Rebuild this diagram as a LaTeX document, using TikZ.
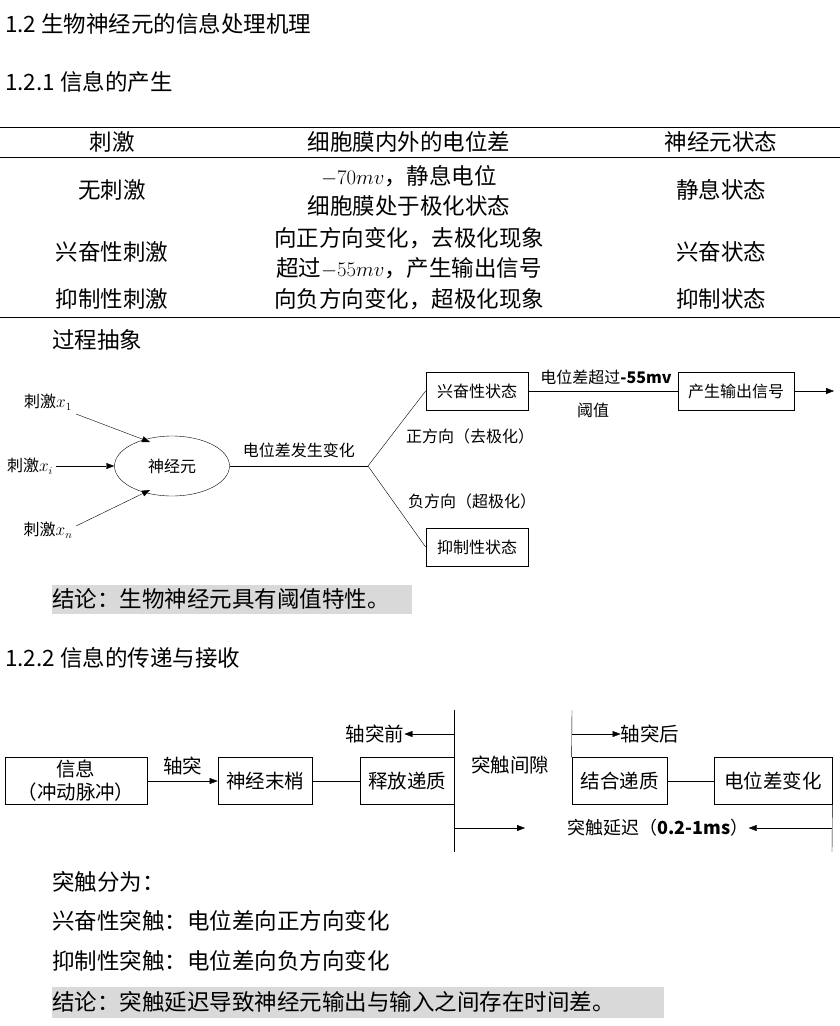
\documentclass[tikz,border=0pt]{standalone}
\usepackage{fontspec}
\setmainfont{Liberation Serif}
\newfontfamily\cjk{Noto Sans CJK SC}
\usetikzlibrary{shapes.geometric,arrows.meta}
\begin{document}
\begin{tikzpicture}[x=1pt,y=-1pt,
    every node/.style={inner sep=0pt,font=\cjk\fontsize{16}{19}\selectfont},
    body/.style={anchor=west,font=\cjk\fontsize{22.5}{26}\selectfont},
    cell/.style={font=\cjk\fontsize{22.5}{26}\selectfont,align=center},
    box/.style={draw,minimum height=38pt,thick},
    lab/.style={font=\cjk\fontsize{19.5}{23}\selectfont},
    arr/.style={-{Triangle[length=8pt,width=6pt]}},
    concl/.style={fill=black!15}
  ]
  \useasboundingbox (0,0) rectangle (840,1026);

  % headings
  \node[body] (h12) at (5,24) {1.2 生物神经元的信息处理机理};
  \node[body] (h121) at (5,82) {1.2.1 信息的产生};

  % table
  \draw (0,127) -- (840,127);
  \draw (0,157) -- (840,157);
  \draw (0,317) -- (840,317);
  \node[cell] (t11) at (112,142) {刺激};
  \node[cell] (t12) at (409,142) {细胞膜内外的电位差};
  \node[cell] (t13) at (721,142) {神经元状态};
  \node[cell] (t21) at (112,190) {无刺激};
  \node[cell] (t22a) at (409,176) {$-70mv$，静息电位};
  \node[cell] (t22b) at (409,206) {细胞膜处于极化状态};
  \node[cell] (t23) at (721,190) {静息状态};
  \node[cell] (t31) at (112,252) {兴奋性刺激};
  \node[cell] (t32a) at (409,238) {向正方向变化，去极化现象};
  \node[cell] (t32b) at (409,268) {超过$-55mv$，产生输出信号};
  \node[cell] (t33) at (721,252) {兴奋状态};
  \node[cell] (t41) at (112,299) {抑制性刺激};
  \node[cell] (t42) at (409,299) {向负方向变化，超极化现象};
  \node[cell] (t43) at (721,299) {抑制状态};

  \node[body] (proc) at (52,340) {过程抽象};

  % process diagram
  \node (x1) at (48,402) {刺激$x_1$};
  \node (xi) at (30,466) {刺激$x_i$};
  \node (xn) at (48,530) {刺激$x_n$};
  \node[ellipse,draw,minimum width=115pt,minimum height=60pt] (neu) at (172,466) {神经元};
  \coordinate (fork) at (368,466);
  \node[box,minimum width=102pt] (exc) at (477,391) {兴奋性状态};
  \node[box,minimum width=102pt] (inh) at (477,547) {抑制性状态};
  \node[box,minimum width=116pt] (out) at (736,391) {产生输出信号};
  \coordinate (end) at (834,391);
  \draw[arr] (76,414) -- (150,442);
  \draw[arr] (56,466) -- (neu.west);
  \draw[arr] (76,526) -- (150,490);
  \draw (neu.east) -- node[above=8pt] {电位差发生变化} (fork);
  \draw (fork) -- (exc.west);
  \draw (fork) -- (inh.west);
  \node (pos) at (470,436) {正方向（去极化）};
  \node (neg) at (472,501) {负方向（超极化）};
  \draw (exc.east) -- (out.west);
  \node (thr) at (606,377) {电位差超过\textbf{-55mv}};
  \node (yz) at (593,410) {阈值};
  \draw[arr] (out.east) -- (end);

  \fill[concl] (52,585) rectangle (412,614);
  \node[body] (c1) at (52,599) {结论：生物神经元具有阈值特性。};

  \node[body] (h122) at (5,658) {1.2.2 信息的传递与接收};

  % synapse diagram
  \node[box,lab,minimum width=142pt,minimum height=47pt,align=center] (info) at (76,781) {信息\\（冲动脉冲）};
  \node[box,lab,minimum width=94pt,minimum height=47pt] (tip) at (265,781) {神经末梢};
  \node[box,lab,minimum width=94pt,minimum height=47pt] (rel) at (407,781) {释放递质};
  \node[box,lab,minimum width=95pt,minimum height=47pt] (bind) at (619.5,781) {结合递质};
  \node[box,lab,minimum width=118pt,minimum height=47pt] (pot) at (773,781) {电位差变化};
  \draw[arr] (info.east) -- node[above=6pt,lab] {轴突} (tip.west);
  \draw (tip.east) -- (rel.west);
  \draw (bind.east) -- (pot.west);
  \coordinate (g1t) at (454,710);
  \coordinate (g1b) at (454,852);
  \coordinate (g2t) at (572,710);
  \coordinate (g3b) at (832,852);
  \draw (g1t) -- (g1b);
  \draw (g2t) -- (bind.north west);
  \draw (pot.south east) -- (g3b);
  \node[lab] (pre) at (375,734) {轴突前};
  \node[lab] (post) at (650,734) {轴突后};
  \draw[arr] (454,734) -- (pre.east);
  \draw[arr] (572,734) -- (post.west);
  \node[lab] (gap) at (510,765) {突触间隙};
  \node[font=\cjk\fontsize{18}{22}\selectfont] (delay) at (658,828) {突触延迟（\textbf{0.2-1ms}）};
  \draw[arr] (454,828) -- (525,828);
  \draw[arr] (832,828) -- (delay.east);

  % closing text
  \node[body] (s1) at (52,882) {突触分为：};
  \node[body] (s2) at (52,921) {兴奋性突触：电位差向正方向变化};
  \node[body] (s3) at (52,961) {抑制性突触：电位差向负方向变化};
  \fill[concl] (52,987) rectangle (664,1018);
  \node[body] (c2) at (52,1002) {结论：突触延迟导致神经元输出与输入之间存在时间差。};
\end{tikzpicture}
\end{document}
